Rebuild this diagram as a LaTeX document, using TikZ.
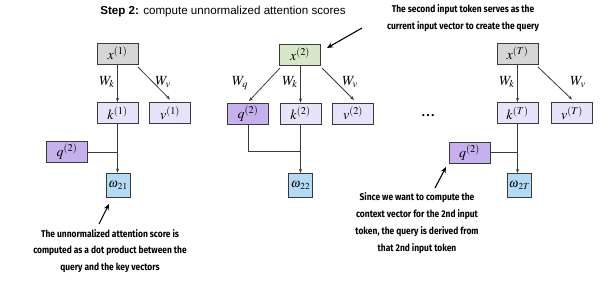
\documentclass[tikz,border=0pt]{standalone}
\usepackage{fontspec}
\usepackage{mathptmx}
\setmainfont{Liberation Serif}
\newfontfamily\titlefont{Liberation Sans}
\newfontfamily\notefont[FakeStretch=0.86]{Fira Sans}
\usetikzlibrary{arrows.meta}
\definecolor{boxline}{HTML}{3A3A3A}
\definecolor{inputgray}{HTML}{D6D6D6}
\definecolor{inputgreen}{HTML}{D7E8C8}
\definecolor{keyval}{HTML}{E8E3FB}
\definecolor{query}{HTML}{C6B0EE}
\definecolor{score}{HTML}{B3DBF5}
\newcommand{\scoresym}[1]{$\omega_{\kern1pt #1}$}
\tikzset{
  vecbox/.style={draw=boxline, line width=0.9pt, minimum width=41pt, minimum height=21pt, inner sep=0pt, font=\fontsize{14}{15}\selectfont},
  scorebox/.style={draw=boxline, line width=0.9pt, fill=score, minimum width=24pt, minimum height=24pt, inner sep=0pt, font=\fontsize{12.5}{13}\selectfont},
  wlabel/.style={inner sep=0pt, font=\fontsize{14}{15}\selectfont},
  conn/.style={draw=boxline, line width=0.8pt},
  arr/.style={conn, -{Stealth[length=4pt,width=3pt]}},
  notearr/.style={draw=black, line width=1.1pt, -{Stealth[length=6pt,width=5pt]}},
  note/.style={align=center, inner sep=0pt, font=\notefont\bfseries\fontsize{9.8}{16.8}\selectfont}
}
\begin{document}
\begin{tikzpicture}[x=1pt,y=-1pt]
\useasboundingbox (0,0) rectangle (600,282);

% heading
\node[inner sep=0pt, font=\titlefont\fontsize{11.6}{13}\selectfont] (title) at (223,11) {\textbf{Step 2:} compute unnormalized attention scores};

% first input token
\node[vecbox, fill=inputgray] (x1) at (117.5,53.5) {$x^{(1)}$};
\node[vecbox, fill=keyval] (k1) at (117.5,113) {$k^{(1)}$};
\node[vecbox, fill=keyval] (v1) at (170,113) {$v^{(1)}$};
\node[vecbox, fill=query] (qa) at (67,152) {$q^{(2)}$};
\node[scorebox] (w21) at (118,185) {\scoresym{21}};
\draw[arr] (x1.south) -- (k1.north);
\node[wlabel] (wk1) at (107,82) {$W_k$};
\coordinate (x1r) at (138,67);
\coordinate (v1t) at (170,99.5);
\draw[arr] (x1r) -- (v1t);
\node[wlabel] (wv1) at (163,82) {$W_v$};
\draw[arr] (k1.south) -- (k1.south |- w21.north);
\draw[conn] (qa.east) -- (qa.east -| k1.south);

% second input token (the query token)
\node[vecbox, fill=inputgreen] (x2) at (300,54.5) {$x^{(2)}$};
\node[vecbox, fill=query] (q2) at (248,113.5) {$q^{(2)}$};
\node[vecbox, fill=keyval] (k2) at (300.5,113.5) {$k^{(2)}$};
\node[vecbox, fill=keyval] (v2) at (353,113.5) {$v^{(2)}$};
\node[scorebox] (w22) at (300.5,185.5) {\scoresym{22}};
\coordinate (x2l) at (280,68);
\coordinate (x2r) at (322,68);
\coordinate (q2t) at (249,101);
\coordinate (v2t) at (354,100);
\draw[arr] (x2l) -- (q2t);
\draw[arr] (x2.south -| k2.north) -- (k2.north);
\draw[arr] (x2r) -- (v2t);
\node[wlabel] (wq2) at (240,83) {$W_q$};
\node[wlabel] (wk2) at (290,82) {$W_k$};
\node[wlabel] (wv2) at (350,82) {$W_v$};
\coordinate (j2) at (300.5,151);
\draw[conn] (q2.south) |- (j2);
\draw[arr] (k2.south) -- (w22.north);

% ellipsis between tokens
\node[inner sep=0pt, font=\fontsize{14}{14}\selectfont] (dots) at (428,116) {\textbf{\ldots}};

% last input token
\node[vecbox, fill=inputgray] (xT) at (517.5,53.5) {$x^{(T)}$};
\node[vecbox, fill=keyval] (kT) at (517.5,113) {$k^{(T)}$};
\node[vecbox, fill=keyval] (vT) at (572,113) {$v^{(T)}$};
\node[vecbox, fill=query] (qb) at (469.5,152.5) {$q^{(2)}$};
\node[scorebox] (w2T) at (519.5,185.5) {\scoresym{2T}};
\draw[arr] (xT.south) -- (kT.north);
\node[wlabel] (wkT) at (507,82) {$W_k$};
\coordinate (xTr) at (538,67);
\coordinate (vTt) at (572,99.5);
\draw[arr] (xTr) -- (vTt);
\node[wlabel] (wvT) at (578,82) {$W_v$};
\draw[arr] (kT.south) -- (kT.south |- w2T.north);
\draw[conn] (qb.east) -- (qb.east -| kT.south);

% notes
\node[note] (n1) at (463,18) {The second input token serves as the\\current input vector to create the query};
\coordinate (n1s) at (362,28);
\coordinate (n1e) at (327,48);
\draw[notearr] (n1s) -- (n1e);

\node[note] (n2) at (110,251) {The unnormalized attention score is\\computed as a dot product between the\\query and the key vectors};
\coordinate (n2s) at (99,224);
\coordinate (n2e) at (109,204);
\draw[notearr] (n2s) -- (n2e);

\node[note] (n3) at (417,223) {Since we want to compute the\\context vector for the 2nd input\\token, the query is derived from\\that 2nd input token};
\coordinate (n3s) at (435,188);
\coordinate (n3e) at (446,167);
\draw[notearr] (n3s) -- (n3e);
\end{tikzpicture}
\end{document}
